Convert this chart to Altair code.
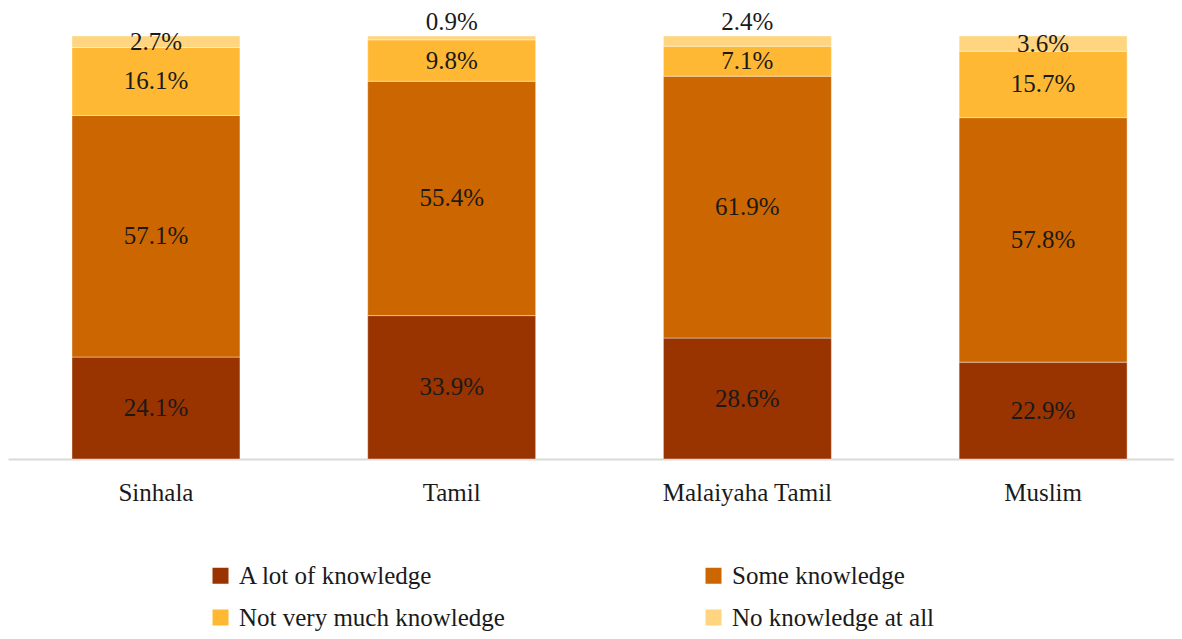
import altair as alt
import pandas as pd

groups = ["Sinhala", "Tamil", "Malaiyaha Tamil", "Muslim"]
levels = ["A lot of knowledge", "Some knowledge", "Not very much knowledge", "No knowledge at all"]
a_lot = [24.1, 33.9, 28.6, 22.9]
some = [57.1, 55.4, 61.9, 57.8]
not_much = [16.1, 9.8, 7.1, 15.7]
none_at_all = [2.7, 0.9, 2.4, 3.6]
colors = ["#993300", "#CC6600", "#FFB833", "#FFD580"]

rows = []
for i, g in enumerate(groups):
    for j, (lvl, vals) in enumerate(zip(levels, [a_lot, some, not_much, none_at_all])):
        rows.append({"group": g, "level": lvl, "order": j, "value": vals[i],
                     "label": f"{vals[i]:.1f}%"})
df = pd.DataFrame(rows)

FONT = "Liberation Serif"
FS = 25

x = alt.X("group:N", sort=groups, title=None,
          scale=alt.Scale(paddingInner=0.432, paddingOuter=0.1875, align=0.577),
          axis=alt.Axis(labelAngle=0, ticks=False, domainColor="#d9d9d9", domainWidth=2,
                        labelFont=FONT, labelFontSize=FS, labelColor="#1a1a1a",
                        labelPadding=21))

base = alt.Chart(df).transform_stack(
    stack="value", groupby=["group"], as_=["y0", "y1"], sort=[alt.SortField("order")]
).transform_calculate(
    mid="(datum.y0 + datum.y1) / 2"
)

bars = base.mark_bar(stroke="white", strokeWidth=0.8, strokeOpacity=0.5).encode(
    x=x,
    y=alt.Y("y0:Q", scale=alt.Scale(domain=[0, 100], nice=False), axis=None),
    y2="y1:Q",
    color=alt.Color("level:N", sort=levels, scale=alt.Scale(domain=levels, range=colors),
                    legend=alt.Legend(title=None, orient="none", legendX=200, legendY=527,
                                      columns=2, direction="horizontal",
                                      symbolType="square", symbolSize=256,
                                      symbolStrokeWidth=0, labelFont=FONT,
                                      labelFontSize=FS, labelColor="#1a1a1a",
                                      labelOffset=6, rowPadding=16, columnPadding=196,
                                      labelLimit=400)),
)

labels_in = base.transform_filter("datum.value >= 2.5").mark_text(
    font=FONT, fontSize=FS, color="#1a1a1a", baseline="middle"
).encode(x=alt.X("group:N", sort=groups), y=alt.Y("mid:Q"), text="label:N")

labels_out = base.transform_filter("datum.value < 2.5").mark_text(
    font=FONT, fontSize=FS, color="#1a1a1a", baseline="middle", dy=-14
).encode(x=alt.X("group:N", sort=groups), y=alt.Y("y1:Q"), text="label:N")

chart = alt.layer(bars, labels_in, labels_out).properties(
    width=1166, height=423,
    padding={"left": 0, "top": 28, "right": 0, "bottom": 172},
    autosize=alt.AutoSizeParams(type="none"),
    background="white",
).configure_view(stroke=None, strokeWidth=0)

chart.save("out.html", embed_options={"renderer": "svg", "actions": False})
